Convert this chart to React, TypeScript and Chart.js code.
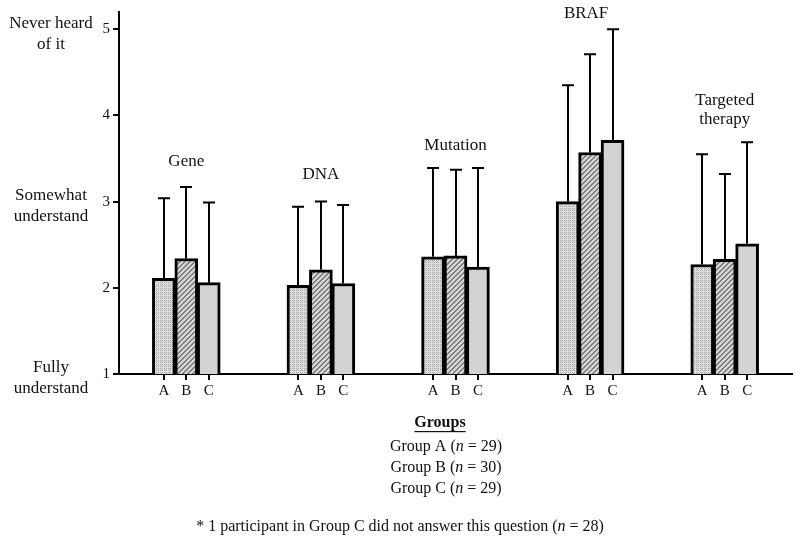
import React, { useEffect, useRef } from 'react';
import { Chart, registerables } from 'chart.js';

Chart.register(...registerables);

const FONT = "'Liberation Serif', 'Times New Roman', serif";

// ---- data ----
const topicLabels: string[][] = [['Gene'], ['DNA'], ['Mutation'], ['BRAF'], ['Targeted', 'therapy']];
const groupNames = ['A', 'B', 'C'];
const groupSizes = ['29', '30', '29'];
const meanA = [2.11, 2.03, 2.36, 3.0, 2.27];
const meanB = [2.34, 2.21, 2.37, 3.57, 2.33];
const meanC = [2.06, 2.05, 2.24, 3.71, 2.51];
const sdA = [0.93, 0.91, 1.03, 1.35, 1.28];
const sdB = [0.83, 0.79, 1.0, 1.14, 0.99];
const sdC = [0.93, 0.91, 1.15, 1.29, 1.18];
const topicLabelValue = [3.46, 3.31, 3.65, 5.18, 4.06];
const yTicks = [1, 2, 3, 4, 5];
const anchorValues = [5, 3, 1];
const anchorTexts: string[][] = [['Never heard', 'of it'], ['Somewhat', 'understand'], ['Fully', 'understand']];
const footnote = '* 1 participant in Group C did not answer this question';
const footnoteN = '28';

const means = [meanA, meanB, meanC];
const sds = [sdA, sdB, sdC];

// slot layout: 2 blanks, then A B C + 3 blanks per topic
const LEAD = 2;
const STEP = 6;
const slotCount = LEAD * 2 + topicLabels.length * 3 + (topicLabels.length - 1) * 3;
const slotLabels: string[] = Array(slotCount).fill('');
topicLabels.forEach((_, t) => {
  groupNames.forEach((g, gi) => {
    slotLabels[LEAD + STEP * t + gi] = g;
  });
});

function makePattern(kind: number): CanvasPattern | string {
  if (kind === 2) return '#d3d3d3';
  const size = kind === 0 ? 4 : 5;
  const c = document.createElement('canvas');
  c.width = size;
  c.height = size;
  const cx = c.getContext('2d')!;
  const img = cx.createImageData(size, size);
  for (let y = 0; y < size; y++) {
    for (let x = 0; x < size; x++) {
      let v: number;
      if (kind === 0) {
        const dark = (y % 2 === 0 && x % 2 === 0) || (y % 4 === 1 && x === 1);
        v = dark ? 172 : 222;
      } else {
        v = (x + y) % size < 2 ? 125 : 212;
      }
      const k = (y * size + x) * 4;
      img.data[k] = v;
      img.data[k + 1] = v;
      img.data[k + 2] = v;
      img.data[k + 3] = 255;
    }
  }
  cx.putImageData(img, 0, 0);
  const p = cx.createPattern(c, 'repeat');
  return p || '#ccc';
}

function drawMixed(ctx: CanvasRenderingContext2D, parts: [string, boolean][], cx: number, cy: number, size: number) {
  const widths = parts.map(([s, it]) => {
    ctx.font = `${it ? 'italic ' : ''}${size}px ${FONT}`;
    return ctx.measureText(s).width;
  });
  const total = widths.reduce((a, b) => a + b, 0);
  let x = cx - total / 2;
  ctx.textAlign = 'left';
  parts.forEach(([s, it], i) => {
    ctx.font = `${it ? 'italic ' : ''}${size}px ${FONT}`;
    ctx.fillText(s, x, cy);
    x += widths[i];
  });
}

const extrasPlugin = {
  id: 'extras',
  afterDatasetsDraw(chart: any) {
    const ctx: CanvasRenderingContext2D = chart.ctx;
    const xs = chart.scales.x;
    const ys = chart.scales.y;
    ctx.save();
    // error bars
    ctx.strokeStyle = '#000';
    ctx.lineWidth = 2;
    chart.data.datasets.forEach((ds: any, d: number) => {
      const meta = chart.getDatasetMeta(d);
      meta.data.forEach((el: any, i: number) => {
        const v = ds.data[i];
        if (v == null) return;
        const t = Math.floor((i - LEAD) / STEP);
        const top = ys.getPixelForValue(v + sds[d][t]);
        const x = Math.round(el.x);
        ctx.beginPath();
        ctx.moveTo(x, el.y);
        ctx.lineTo(x, top);
        ctx.moveTo(x - 6, top);
        ctx.lineTo(x + 6, top);
        ctx.stroke();
      });
    });
    // topic labels
    ctx.fillStyle = '#111';
    ctx.textAlign = 'center';
    ctx.textBaseline = 'middle';
    ctx.font = `17px ${FONT}`;
    topicLabels.forEach((lines, t) => {
      const x = xs.getPixelForValue(LEAD + STEP * t + 1) - (t === 3 ? 4 : 0);
      const y = ys.getPixelForValue(topicLabelValue[t]);
      const lh = 19;
      const y0 = y - ((lines.length - 1) * lh) / 2;
      lines.forEach((ln, k) => ctx.fillText(ln, x, y0 + k * lh));
    });
    // left anchor texts
    anchorValues.forEach((v, a) => {
      const y = ys.getPixelForValue(v);
      ctx.fillText(anchorTexts[a][0], 51, y - 6);
      ctx.fillText(anchorTexts[a][1], 51, y + 15);
    });
    // bottom legend
    ctx.font = `bold 16px ${FONT}`;
    const gw = ctx.measureText('Groups').width;
    ctx.fillText('Groups', 440, 423);
    ctx.fillRect(440 - gw / 2, 431, gw, 1.2);
    groupNames.forEach((g, gi) => {
      drawMixed(
        ctx,
        [[`Group ${g} (`, false], ['n', true], [` = ${groupSizes[gi]})`, false]],
        446,
        447 + gi * 20.7,
        16
      );
    });
    drawMixed(ctx, [[footnote + ' (', false], ['n', true], [` = ${footnoteN})`, false]], 400, 527, 16);
    ctx.restore();
  },
};

export default function App() {
  const ref = useRef<HTMLCanvasElement>(null);
  useEffect(() => {
    if (!ref.current) return;
    const datasets = groupNames.map((g, gi) => {
      const data: (number | null)[] = Array(slotCount).fill(null);
      means[gi].forEach((v, t) => {
        data[LEAD + STEP * t + gi] = v;
      });
      return {
        label: `Group ${g}`,
        data,
        backgroundColor: makePattern(gi),
        borderColor: '#000',
        borderWidth: 3,
        barThickness: 23,
        grouped: false,
      };
    });
    const chart = new Chart(ref.current, {
      type: 'bar',
      data: { labels: slotLabels, datasets: datasets as any },
      options: {
        responsive: false,
        animation: false,
        layout: { padding: { top: 12, right: 8, left: 0, bottom: 0 } },
        plugins: { legend: { display: false }, tooltip: { enabled: false } },
        scales: {
          x: {
            type: 'category',
            offset: false,
            afterFit: (s: any) => {
              s.height = 169;
            },
            border: { display: true, color: '#000', width: 2 },
            grid: {
              offset: false,
              drawOnChartArea: false,
              drawTicks: true,
              tickLength: 6,
              lineWidth: 2,
              color: (c: any) => (slotLabels[c.index] ? '#000' : 'rgba(0,0,0,0)'),
            },
            ticks: {
              autoSkip: false,
              maxRotation: 0,
              minRotation: 0,
              padding: 2,
              color: '#111',
              font: { family: FONT, size: 15 },
            },
          },
          y: {
            type: 'linear',
            min: 1,
            max: 5.2,
            afterFit: (s: any) => {
              s.width = 119;
            },
            afterBuildTicks: (s: any) => {
              s.ticks = yTicks.map((v) => ({ value: v }));
            },
            border: { display: true, color: '#000', width: 2 },
            grid: {
              drawOnChartArea: false,
              drawTicks: true,
              tickLength: 6,
              lineWidth: 2,
              color: '#000',
            },
            ticks: {
              padding: 3,
              color: '#111',
              font: { family: FONT, size: 15 },
            },
          },
        },
      },
      plugins: [extrasPlugin],
    });
    return () => chart.destroy();
  }, []);
  return (
    <div style={{ position: 'fixed', left: 0, top: 0, width: 800, height: 543, background: '#fff' }}>
      <canvas ref={ref} width={800} height={543} style={{ display: 'block' }} />
    </div>
  );
}
